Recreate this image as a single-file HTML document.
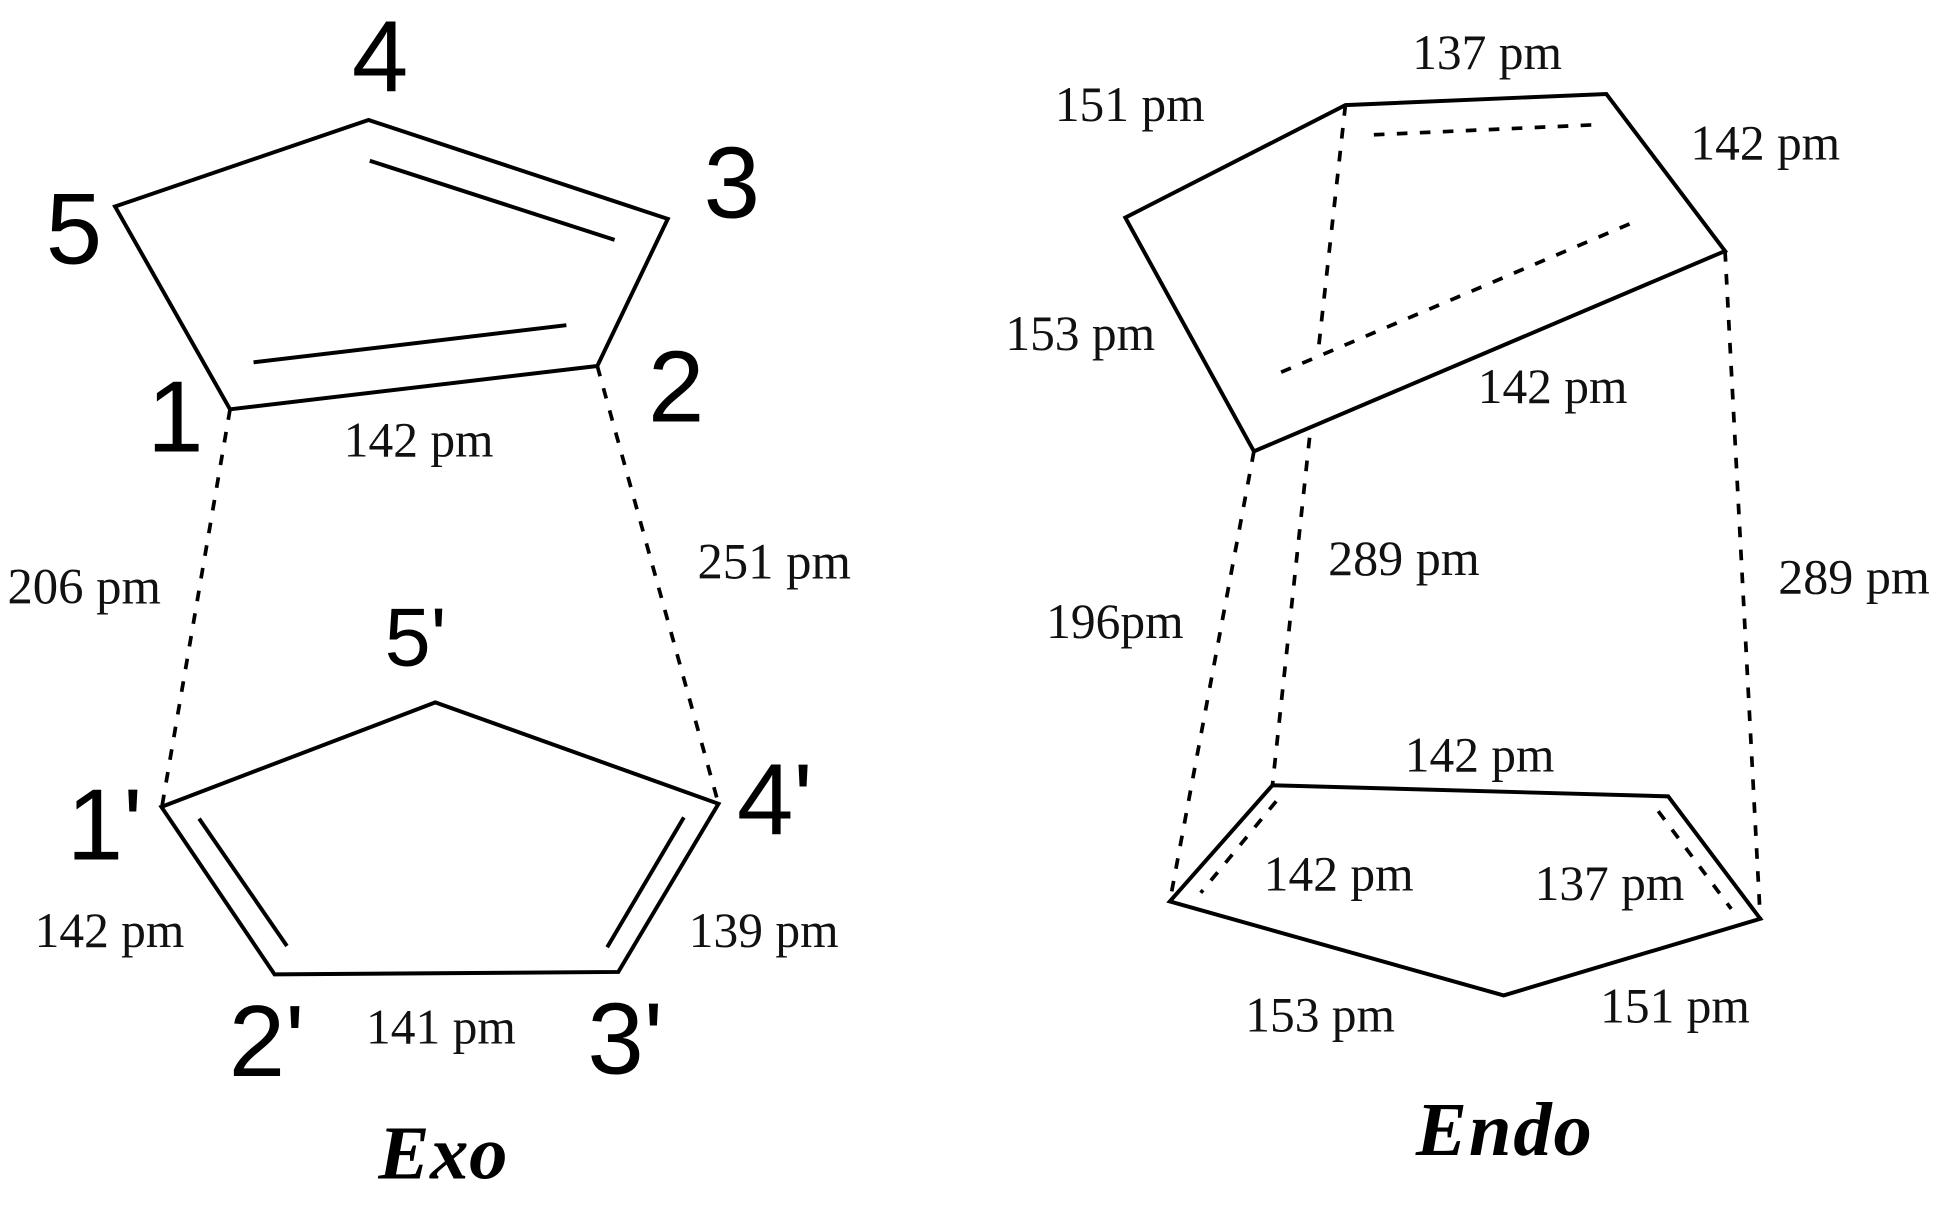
<!DOCTYPE html>
<html>
<head>
<meta charset="utf-8">
<style>
html,body{margin:0;padding:0;background:#fff;}
svg{display:block;}
.l{font-family:"Liberation Serif",serif;font-size:40px;fill:#111;}
.n{font-family:"Liberation Sans",sans-serif;font-size:82px;fill:#000;}
.t{font-family:"Liberation Serif",serif;font-size:62px;font-weight:bold;font-style:italic;fill:#000;letter-spacing:.5px;}
.s{fill:none;stroke:#000;stroke-width:3.2;stroke-linejoin:miter;}
.d{fill:none;stroke:#000;stroke-width:3;stroke-dasharray:8.6 10;}
</style>
</head>
<body>
<svg xmlns="http://www.w3.org/2000/svg" width="1939" height="1208" viewBox="0 0 1568 976.9">
<rect width="1568" height="977" fill="#fff"/>

<!-- Exo top ring -->
<polygon class="s" points="186,331 93,167 298,97 540,177 483,296"/>
<line class="s" x1="299" y1="130" x2="497" y2="194"/>
<line class="s" x1="205" y1="293" x2="458" y2="263"/>

<!-- Exo bottom ring -->
<polygon class="s" points="130.5,652.5 352,568 581,650 500,786 222,788"/>
<line class="s" x1="161" y1="662" x2="232" y2="765"/>
<line class="s" x1="553" y1="661" x2="491" y2="766"/>

<!-- Exo dashed -->
<line class="d" x1="186" y1="331" x2="131" y2="652"/>
<line class="d" x1="483" y1="296" x2="581" y2="650"/>

<!-- Endo top ring -->
<polygon class="s" points="1014,365 910,176 1088,85 1299,76 1395,203"/>
<line class="d" x1="1111" y1="109" x2="1288" y2="101"/>
<line class="d" x1="1088" y1="85" x2="1066" y2="284"/>
<line class="d" x1="1036" y1="301" x2="1318" y2="181"/>

<!-- Endo bottom ring -->
<polygon class="s" points="946,729 1029,635 1349,644 1423.5,743 1216,805"/>
<line class="d" x1="1032" y1="648" x2="971" y2="722"/>
<line class="d" x1="1341" y1="656" x2="1400" y2="735"/>

<!-- Endo dashed -->
<line class="d" x1="1014" y1="365" x2="946" y2="729"/>
<line class="d" x1="1059" y1="354" x2="1029" y2="635"/>
<line class="d" x1="1395" y1="203" x2="1423.5" y2="743"/>

<!-- Exo numbers -->
<text class="n" x="284.5" y="74">4</text>
<text class="n" x="569" y="176">3</text>
<text class="n" x="37" y="213">5</text>
<text class="n" x="119" y="365">1</text>
<text class="n" x="524" y="341">2</text>
<text class="n" x="311" y="538" style="font-size:67px">5'</text>
<text class="n" x="54" y="695">1'</text>
<text class="n" x="596" y="675">4'</text>
<text class="n" x="185" y="870">2'</text>
<text class="n" x="475" y="868">3'</text>

<!-- Exo labels -->
<text class="l" x="278" y="369">142 pm</text>
<text class="l" x="6" y="488" style="font-size:41px">206 pm</text>
<text class="l" x="564" y="468" style="font-size:41px">251 pm</text>
<text class="l" x="28" y="766">142 pm</text>
<text class="l" x="557" y="766">139 pm</text>
<text class="l" x="296" y="844">141 pm</text>
<text class="t" x="306" y="953">Exo</text>

<!-- Endo labels -->
<text class="l" x="1142" y="56">137 pm</text>
<text class="l" x="853" y="98">151 pm</text>
<text class="l" x="1367" y="129">142 pm</text>
<text class="l" x="813" y="283">153 pm</text>
<text class="l" x="1195" y="326">142 pm</text>
<text class="l" x="1074" y="465" style="font-size:40.5px">289 pm</text>
<text class="l" x="1438" y="480" style="font-size:40.5px">289 pm</text>
<text class="l" x="846" y="516">196pm</text>
<text class="l" x="1136" y="624">142 pm</text>
<text class="l" x="1022" y="720">142 pm</text>
<text class="l" x="1241" y="728">137 pm</text>
<text class="l" x="1007" y="834">153 pm</text>
<text class="l" x="1294" y="827">151 pm</text>
<text class="t" x="1145" y="934" style="letter-spacing:1.5px">Endo</text>
</svg>
</body>
</html>
